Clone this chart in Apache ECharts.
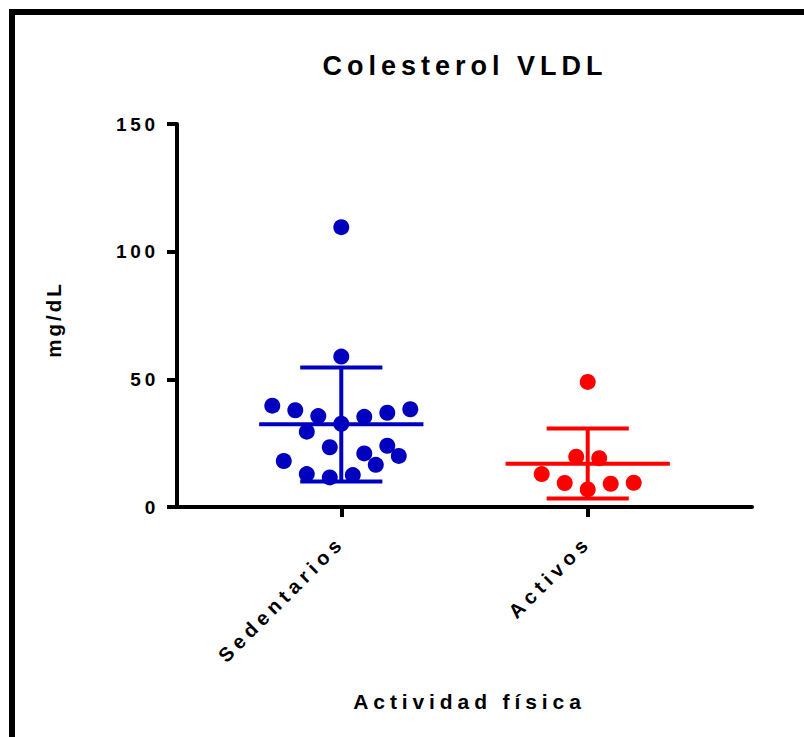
<!DOCTYPE html>
<html>
<head>
<meta charset="utf-8">
<script src="https://cdn.jsdelivr.net/npm/echarts@6/dist/echarts.min.js"></script>
<style>
  html, body { margin: 0; padding: 0; background: #fff; }
  #chart { width: 804px; height: 737px; }
  text[style*="27px"] { letter-spacing: 5px; }
  text[style*="19px"] { letter-spacing: 3.8px; }
  text[style*="20px"] { letter-spacing: 5px; }
  text[style*="20.5px"] { letter-spacing: 3px; }
  text[style*="21px"] { letter-spacing: 4.9px; }
</style>
</head>
<body>
<div id="chart"></div>
<script>
// ---- data ----
const categories = ['Sedentarios', 'Activos'];
const sedentariosValues = [109.6, 58.9, 39.7, 37.9, 35.6, 35.3, 36.9, 38.3, 32.6, 29.5, 23.4, 24.0, 21.0, 20.0, 16.5, 18.0, 12.9, 11.6, 12.5];
const sedentariosJitter = [0, 0, -0.84, -0.56, -0.28, 0.28, 0.56, 0.84, 0, -0.42, -0.14, 0.56, 0.28, 0.70, 0.42, -0.70, -0.42, -0.14, 0.14];
const activosValues = [49.0, 19.7, 19.1, 12.9, 9.4, 6.9, 9.1, 9.5];
const activosJitter = [0, -0.14, 0.14, -0.56, -0.28, 0, 0.28, 0.56];
const groupMeans = [32.4, 16.9];
const groupUpper = [54.6, 30.7];
const groupLower = [10.0, 3.3];
const yTicks = [0, 50, 100, 150];

// ---- layout helpers ----
const slotCount = 8;            // padded category slots
const groupSlots = [2, 5];      // slot index of each group
const colors = ['#0000BE', '#FF0000'];
const FONT = "'Liberation Sans', Arial, sans-serif";

const paddedCats = new Array(slotCount).fill('');
groupSlots.forEach((s, i) => { paddedCats[s] = categories[i]; });

const scatterSeries = [[sedentariosValues, sedentariosJitter], [activosValues, activosJitter]].map((g, gi) => ({
  type: 'scatter',
  xAxisIndex: 1,
  yAxisIndex: 0,
  symbol: 'circle',
  symbolSize: 16,
  itemStyle: { color: colors[gi], opacity: 1 },
  z: 5,
  data: g[0].map((v, i) => [groupSlots[gi] + g[1][i], v])
}));

const barData = categories.map((c, i) => [groupSlots[i], groupMeans[i], groupLower[i], groupUpper[i], i]);

const errorSeries = {
  type: 'custom',
  xAxisIndex: 1,
  yAxisIndex: 0,
  z: 3,
  data: barData,
  renderItem: function (params, api) {
    const x = api.value(0), m = api.value(1), lo = api.value(2), hi = api.value(3), gi = api.value(4);
    const c = colors[gi];
    const st = { stroke: c, lineWidth: 4, fill: 'none' };
    const pLo = api.coord([x, lo]), pHi = api.coord([x, hi]);
    const mL = api.coord([x - 1, m]), mR = api.coord([x + 1, m]);
    const hL = api.coord([x - 0.5, hi]), hR = api.coord([x + 0.5, hi]);
    const lL = api.coord([x - 0.5, lo]), lR = api.coord([x + 0.5, lo]);
    return {
      type: 'group',
      children: [
        { type: 'line', shape: { x1: pLo[0], y1: pLo[1], x2: pHi[0], y2: pHi[1] }, style: st },
        { type: 'line', shape: { x1: mL[0], y1: mL[1], x2: mR[0], y2: mR[1] }, style: st },
        { type: 'line', shape: { x1: hL[0], y1: hL[1], x2: hR[0], y2: hR[1] }, style: st },
        { type: 'line', shape: { x1: lL[0], y1: lL[1], x2: lR[0], y2: lR[1] }, style: st }
      ]
    };
  }
};

const chart = echarts.init(document.getElementById('chart'), null, { renderer: 'svg' });
chart.setOption({
  backgroundColor: '#fff',
  animation: false,
  textStyle: { fontFamily: FONT },
  title: {
    text: 'Colesterol VLDL',
    left: 460,
    top: 47,
    textAlign: 'center',
    textStyle: { fontFamily: FONT, fontSize: 27, fontWeight: 'bold', color: '#000' }
  },
  graphic: [{
    type: 'rect',
    silent: true,
    shape: { x: 12, y: 12, width: 1000, height: 1000 },
    style: { fill: 'none', stroke: '#000', lineWidth: 6 },
    z: 100
  }],
  grid: { left: 177, right: 52, top: 124, bottom: 230, containLabel: false, outerBoundsMode: 'none' },
  xAxis: [{
    type: 'category',
    data: paddedCats,
    boundaryGap: false,
    name: 'Actividad física',
    nameLocation: 'middle',
    nameGap: 184,
    nameMoveOverlap: false,
    nameTextStyle: { fontFamily: FONT, fontSize: 21, fontWeight: 'bold', color: '#000', padding: [0, 0, 0, 10] },
    axisLine: { lineStyle: { color: '#000', width: 4 } },
    axisTick: { length: 10, lineStyle: { color: '#000', width: 4 }, interval: (i, v) => v !== '' },
    axisLabel: { interval: (i, v) => v !== '', rotate: 45, margin: 32, fontFamily: FONT, fontSize: 20, fontWeight: 'bold', color: '#000' },
    splitLine: { show: false }
  }, {
    type: 'value',
    min: 0,
    max: slotCount - 1,
    show: false,
    splitLine: { show: false }
  }],
  yAxis: {
    type: 'value',
    min: yTicks[0],
    max: yTicks[yTicks.length - 1],
    interval: yTicks[1] - yTicks[0],
    name: 'mg/dL',
    nameLocation: 'middle',
    nameGap: 113,
    nameMoveOverlap: false,
    nameTextStyle: { fontFamily: FONT, fontSize: 20.5, fontWeight: 'bold', color: '#000', padding: [0, 8, 0, 0] },
    axisLine: { show: true, lineStyle: { color: '#000', width: 4 } },
    axisTick: { show: true, length: 10, lineStyle: { color: '#000', width: 4 } },
    axisLabel: { margin: 18, fontFamily: FONT, fontSize: 19, fontWeight: 'bold', color: '#000' },
    splitLine: { show: false }
  },
  series: [errorSeries].concat(scatterSeries)
});
</script>
</body>
</html>
